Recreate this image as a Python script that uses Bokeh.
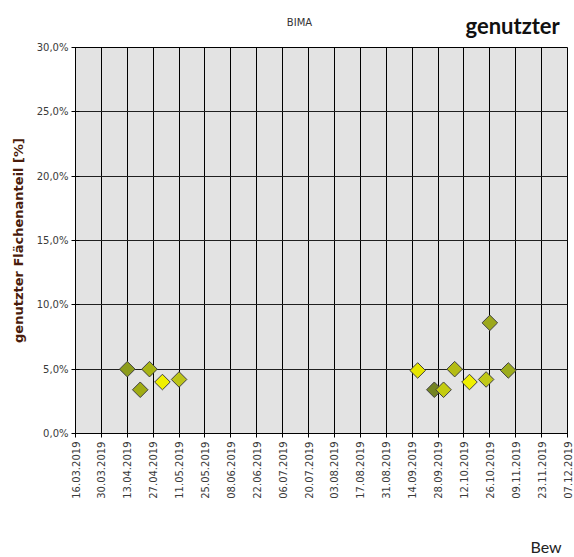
import numpy as np
import pandas as pd
from bokeh.plotting import figure
from bokeh.layouts import column
from bokeh.models import (ColumnDataSource, FixedTicker, DatetimeTickFormatter,
                          Range1d)
from bokeh.embed import file_html
from bokeh.resources import INLINE
from bokeh.core.properties import value

# ---- data ----
dates = ["2019-04-13", "2019-04-20", "2019-04-25", "2019-05-02", "2019-05-11",
         "2019-09-17", "2019-09-26", "2019-10-01", "2019-10-07", "2019-10-15",
         "2019-10-24", "2019-10-26", "2019-11-05"]
values = [5.0, 3.4, 5.0, 4.0, 4.2, 4.9, 3.4, 3.4, 5.0, 4.0, 4.2, 8.6, 4.9]
colors = ["#8c9c1c", "#a0ac14", "#a8b414", "#f0f000", "#bcc418",
          "#e6e600", "#748424", "#c4cc10", "#b4bc14", "#f0f000",
          "#c0c818", "#9ca81c", "#9cac1c"]

x_tick_dates = ["2019-03-16", "2019-03-30", "2019-04-13", "2019-04-27", "2019-05-11",
                "2019-05-25", "2019-06-08", "2019-06-22", "2019-07-06", "2019-07-20",
                "2019-08-03", "2019-08-17", "2019-08-31", "2019-09-14", "2019-09-28",
                "2019-10-12", "2019-10-26", "2019-11-09", "2019-11-23", "2019-12-07"]
y_ticks = [0, 5, 10, 15, 20, 25, 30]
y_tick_labels = ["0,0%", "5,0%", "10,0%", "15,0%", "20,0%", "25,0%", "30,0%"]

title_small = "BIMA"
title_big = "genutzter"
footer = "Bew"
y_label = "genutzter Flächenanteil [%]"

W = 574
HEAD_H, MAIN_H, FOOT_H = 39, 488, 30
FRAME_L, FRAME_R = 75, 567   # frames are aligned across the column


def ms(d):
    return pd.Timestamp(d).value / 1e6


def blank(h):
    f = figure(width=W, height=h, x_range=Range1d(FRAME_L, FRAME_R),
               y_range=Range1d(0, h), output_backend="svg",
               toolbar_location=None, min_border=0,
               min_border_left=FRAME_L, min_border_right=W - FRAME_R,
               x_axis_location=None, y_axis_location=None)
    f.grid.visible = False
    f.outline_line_color = None
    f.background_fill_color = "white"
    return f


# ---- header ----
head = blank(HEAD_H)
head.text(x=[299], y=[17], text=[title_small], text_font=value("DejaVu Sans"),
          text_font_size="10px", text_color="#333333", text_align="center",
          text_baseline="alphabetic")
head.text(x=[465], y=[14], text=[title_big], text_font=value("Lato"),
          text_font_style="bold", text_font_size="22px", text_color="#111111",
          text_align="left", text_baseline="alphabetic")

# ---- main chart ----
src = ColumnDataSource(dict(x=pd.to_datetime(dates), y=values, c=colors))
xt = [ms(d) for d in x_tick_dates]

p = figure(width=W, height=MAIN_H, x_axis_type="datetime",
           output_backend="svg", toolbar_location=None,
           x_range=Range1d(xt[0], xt[-1]), y_range=Range1d(0, 30),
           min_border_left=FRAME_L, min_border_right=W - FRAME_R,
           min_border_top=8, min_border_bottom=94)
p.background_fill_color = "#e3e3e3"
p.border_fill_color = "white"
p.outline_line_color = "black"
p.outline_line_width = 1

p.scatter("x", "y", source=src, marker="square", size=11, angle=np.pi / 4,
          fill_color="c", line_color="#404040", line_width=1)

xa = p.xaxis[0]
xa.ticker = FixedTicker(ticks=xt)
fmt = "%d.%m.%Y"
xa.formatter = DatetimeTickFormatter(days=fmt, months=fmt, years=fmt, hours=fmt,
                                     hourmin=fmt, minutes=fmt, minsec=fmt,
                                     seconds=fmt, milliseconds=fmt,
                                     microseconds=fmt)
xa.major_label_orientation = np.pi / 2
xa.minor_tick_line_color = None
xa.major_tick_in = 4
xa.major_tick_out = 4
xa.axis_line_color = "black"
xa.major_tick_line_color = "black"
xa.major_label_text_font = "DejaVu Sans"
xa.major_label_text_font_size = "10px"
xa.major_label_text_color = "#3a3a3a"
xa.major_label_standoff = 4

ya = p.yaxis[0]
ya.ticker = FixedTicker(ticks=y_ticks)
ya.major_label_overrides = {t: l for t, l in zip(y_ticks, y_tick_labels)}
ya.minor_tick_line_color = None
ya.major_tick_in = 4
ya.major_tick_out = 4
ya.axis_line_color = "black"
ya.major_tick_line_color = "black"
ya.major_label_text_font = "DejaVu Sans"
ya.major_label_text_font_size = "10px"
ya.major_label_text_color = "#3a3a3a"
ya.major_label_standoff = 3
ya.axis_label = y_label
ya.axis_label_text_font = "DejaVu Sans"
ya.axis_label_text_font_style = "bold"
ya.axis_label_text_font_size = "13px"
ya.axis_label_text_color = "#4a1c0c"
ya.axis_label_standoff = 8

p.xgrid.ticker = FixedTicker(ticks=xt)
p.xgrid.grid_line_color = "black"
p.xgrid.grid_line_width = 1
p.ygrid.ticker = FixedTicker(ticks=y_ticks)
p.ygrid.grid_line_color = "#202020"
p.ygrid.grid_line_width = 1

# ---- footer ----
foot = blank(FOOT_H)
foot.text(x=[530], y=[11], text=[footer], text_font=value("Lato"),
          text_font_size="16px", text_color="#222222", text_align="left",
          text_baseline="alphabetic")

layout = column(head, p, foot, spacing=0)
open("out.html", "w").write(file_html(layout, INLINE))
